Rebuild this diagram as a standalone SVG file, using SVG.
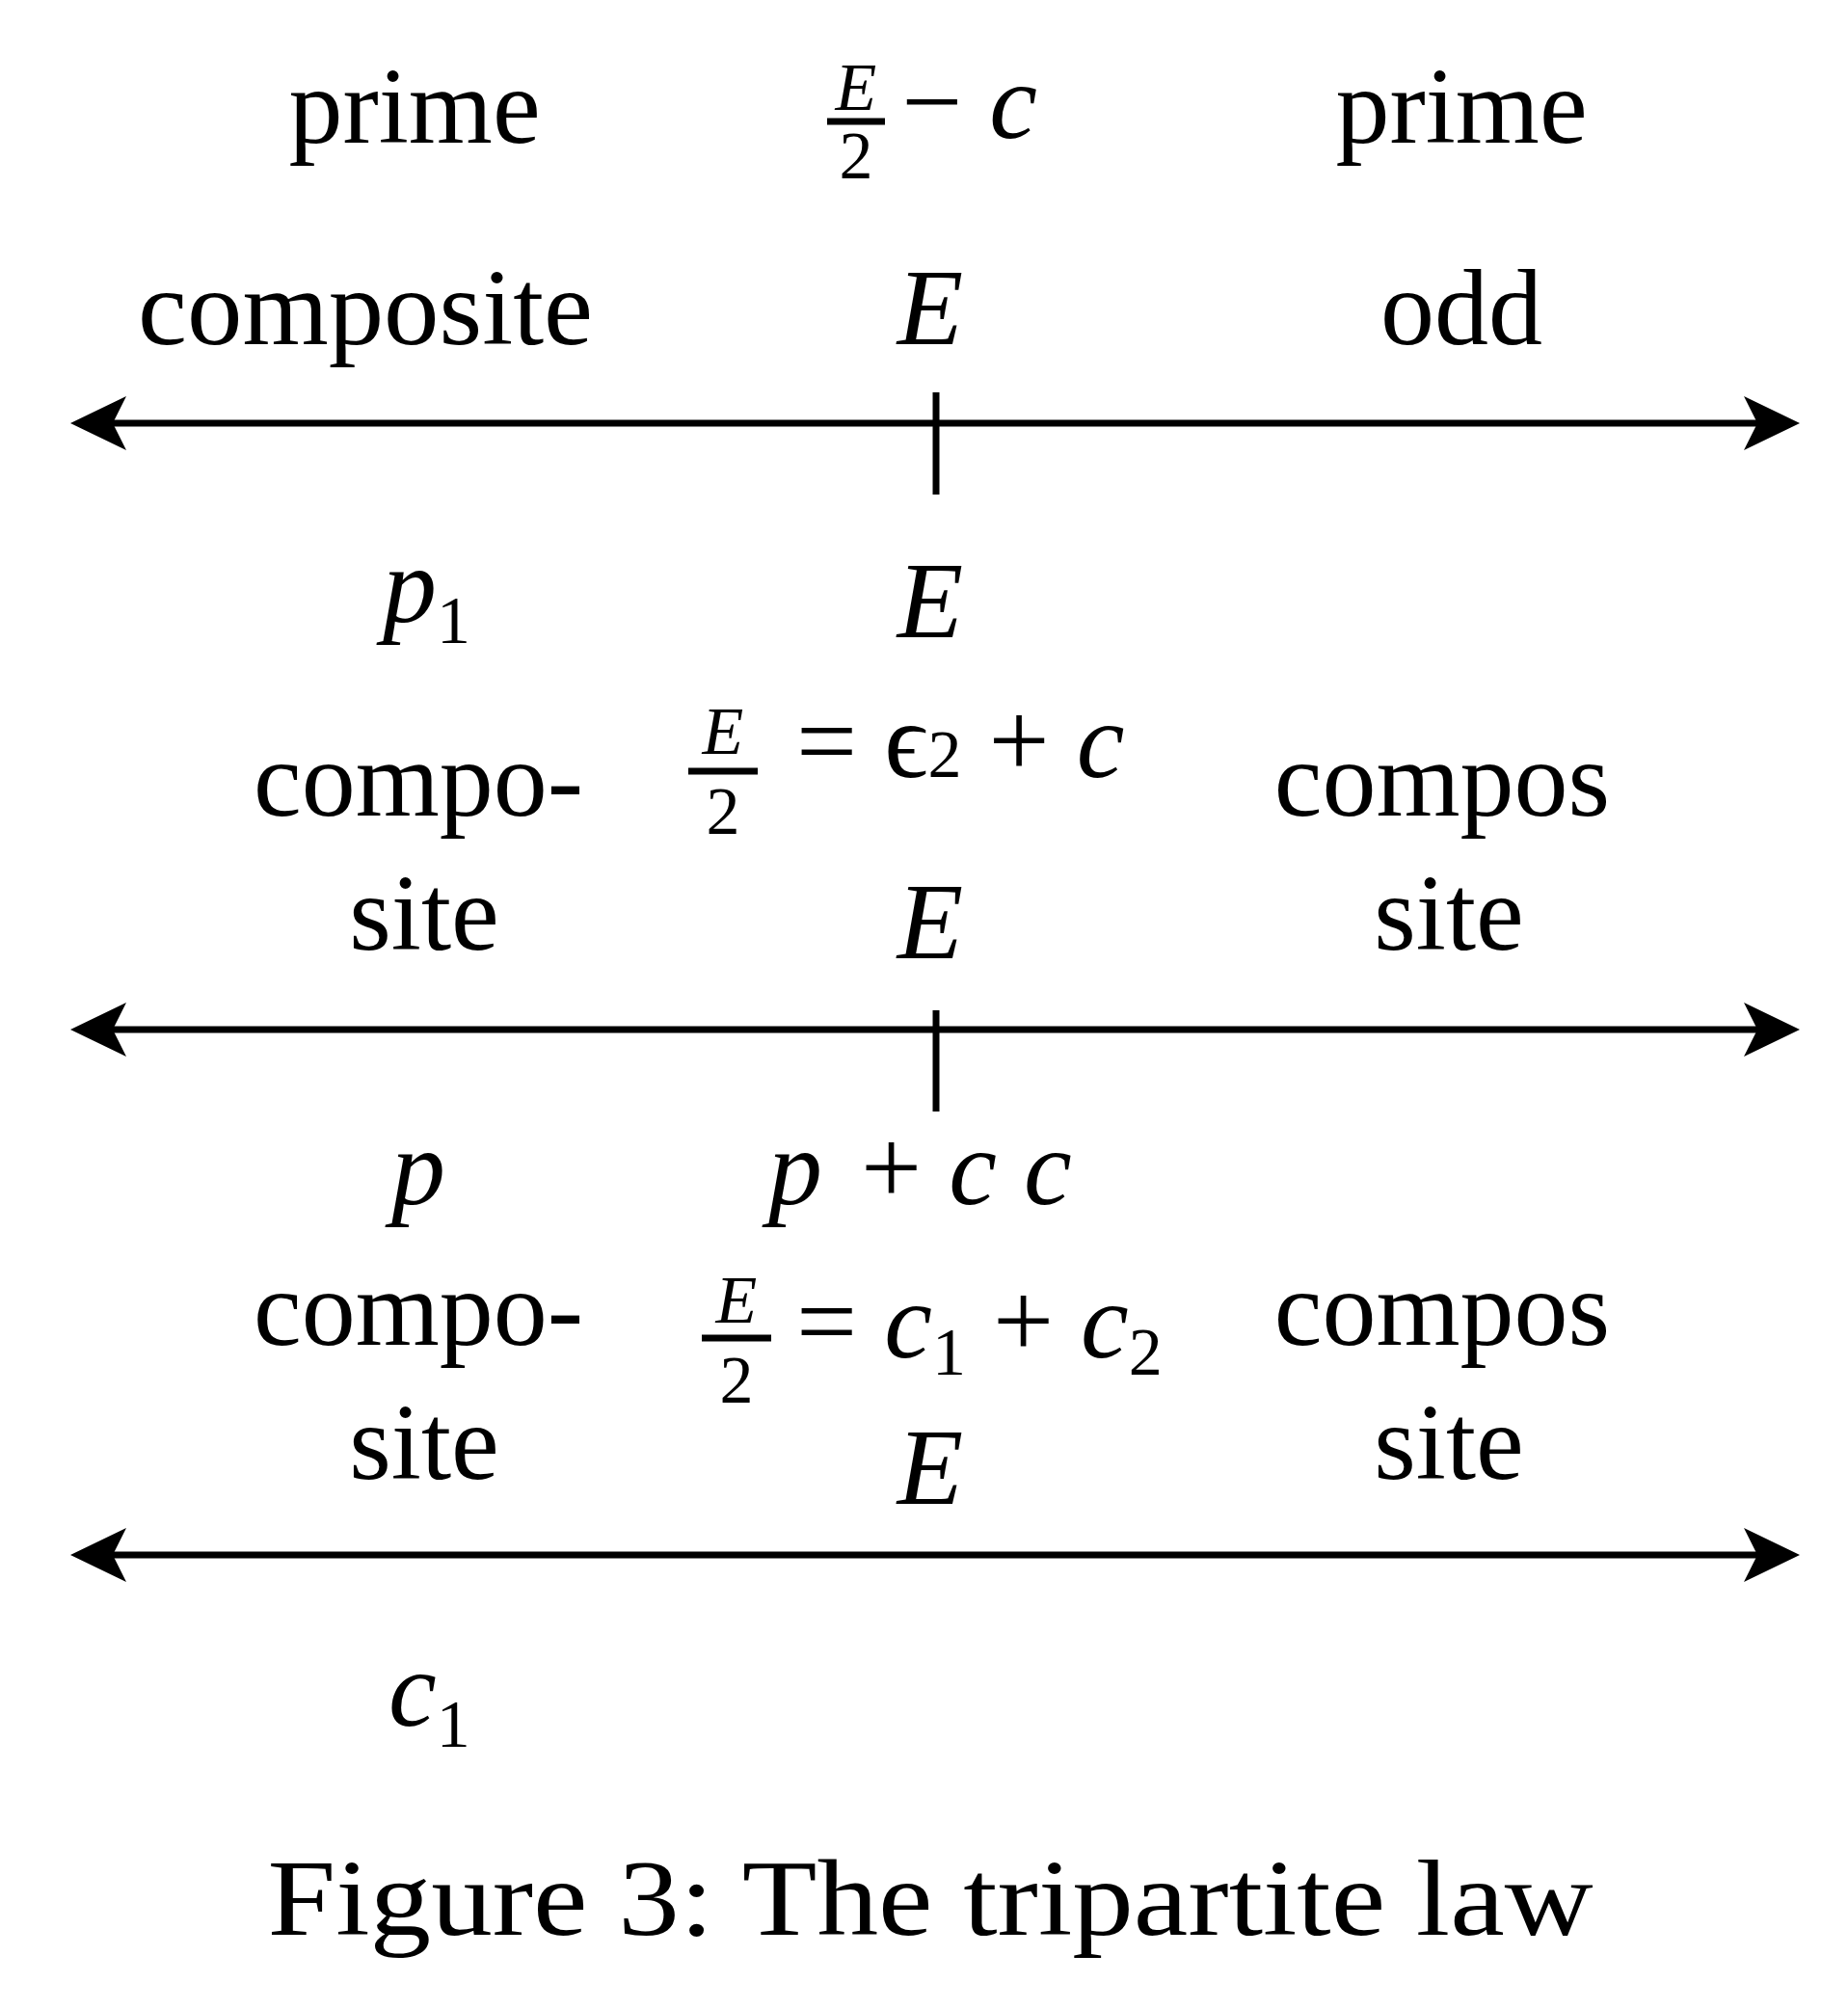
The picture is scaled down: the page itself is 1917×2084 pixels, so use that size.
<svg xmlns="http://www.w3.org/2000/svg" width="1917" height="2084" viewBox="0 0 1917 2084">
<style>
.t{font-family:"Liberation Serif","DejaVu Serif",serif;font-size:112px;fill:#000}
.m{font-family:"Liberation Serif","DejaVu Serif",serif;font-style:italic;font-size:112px;fill:#000}
.s{font-size:70px}
.f{font-family:"Liberation Serif","DejaVu Serif",serif;font-size:70px;fill:#000}
.fi{font-style:italic}
.ln{stroke:#000;stroke-width:7;fill:none}
.ah{fill:#000}
</style>
<defs>
<path id="hl" d="M0,0 L58,-28 L44,0 L58,28 Z"/>
<path id="hr" d="M0,0 L-58,-28 L-44,0 L-58,28 Z"/>
</defs>
<rect width="1917" height="2084" fill="#fff"/>
<g id="connectors">
<line class="ln" x1="100" y1="439" x2="1840" y2="439"/><use href="#hl" x="73" y="439" class="ah"/><use href="#hr" x="1867" y="439" class="ah"/>
<line class="ln" x1="971" y1="407" x2="971" y2="513"/>
<line class="ln" x1="100" y1="1068" x2="1840" y2="1068"/><use href="#hl" x="73" y="1068" class="ah"/><use href="#hr" x="1867" y="1068" class="ah"/>
<line class="ln" x1="971" y1="1048" x2="971" y2="1153"/>
<line class="ln" x1="100" y1="1613" x2="1840" y2="1613"/><use href="#hl" x="73" y="1613" class="ah"/><use href="#hr" x="1867" y="1613" class="ah"/>
</g>
<g id="row1">
<text class="t" x="430" y="148" text-anchor="middle">prime</text>
<g id="frac1"><text class="f fi" x="888" y="114" text-anchor="middle">E</text><line class="ln" stroke-width="4" x1="858" y1="126" x2="918" y2="126"/><text class="f" x="888" y="185" text-anchor="middle">2</text></g>
<text class="m" x="935" y="143"><tspan font-style="normal">−</tspan> c</text>
<text class="t" x="1516" y="148" text-anchor="middle">prime</text>
</g>
<g id="row2">
<text class="t" x="379" y="357" text-anchor="middle" textLength="472" lengthAdjust="spacingAndGlyphs">composite</text>
<text class="m" x="965" y="357" text-anchor="middle">E</text>
<text class="t" x="1516" y="357" text-anchor="middle">odd</text>
</g>
<g id="row3">
<text class="m" x="397" y="645">p<tspan class="s" font-style="normal" dy="22">1</tspan></text>
<text class="m" x="965" y="661" text-anchor="middle">E</text>
<g id="frac2"><text class="f fi" x="750" y="782" text-anchor="middle">E</text><line class="ln" stroke-width="4" x1="714" y1="800" x2="786" y2="800"/><text class="f" x="750" y="865" text-anchor="middle">2</text></g>
<text class="t" x="826" y="806">= ϵ<tspan class="s">2</tspan> + <tspan font-style="italic">c</tspan></text>
<text class="t" x="434" y="846" text-anchor="middle">compo-</text>
<text class="t" x="1496" y="846" text-anchor="middle">compos</text>
<text class="t" x="440" y="985" text-anchor="middle">site</text>
<text class="m" x="965" y="994" text-anchor="middle">E</text>
<text class="t" x="1503" y="985" text-anchor="middle">site</text>
</g>
<g id="row4">
<text class="m" x="434" y="1249" text-anchor="middle">p</text>
<text class="m" x="797" y="1249">p<tspan font-style="normal" dx="40">+</tspan> c c</text>
<text class="t" x="434" y="1395" text-anchor="middle">compo-</text>
<g id="frac3"><text class="f fi" x="764" y="1372" text-anchor="middle">E</text><line class="ln" stroke-width="4" x1="728" y1="1388" x2="800" y2="1388"/><text class="f" x="764" y="1455" text-anchor="middle">2</text></g>
<text class="t" x="826" y="1408">= <tspan font-style="italic">c</tspan><tspan class="s" dy="18">1</tspan><tspan dy="-18"> + </tspan><tspan font-style="italic">c</tspan><tspan class="s" dy="18">2</tspan></text>
<text class="t" x="1496" y="1395" text-anchor="middle">compos</text>
<text class="t" x="440" y="1534" text-anchor="middle">site</text>
<text class="m" x="965" y="1560" text-anchor="middle">E</text>
<text class="t" x="1503" y="1534" text-anchor="middle">site</text>
</g>
<g id="row5">
<text class="m" x="403" y="1790">c<tspan class="s" font-style="normal" dy="22">1</tspan></text>
</g>
<g id="caption">
<text class="t" x="965" y="2007" text-anchor="middle" textLength="1375" lengthAdjust="spacingAndGlyphs" font-size="125">Figure 3: The tripartite law</text>
</g>
</svg>
